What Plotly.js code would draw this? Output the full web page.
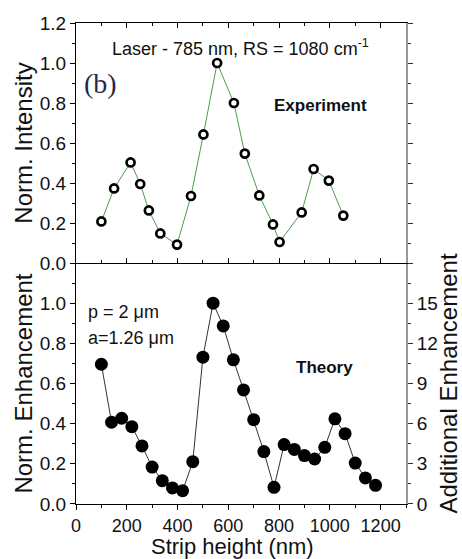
<!DOCTYPE html>
<html><head><meta charset="utf-8">
<script src="https://cdn.plot.ly/plotly-3.0.1.min.js"></script>
<style>html,body{margin:0;padding:0;background:#fff}</style>
</head><body><div id="chart" style="width:462px;height:559px"></div>
<script>
// Experiment (top panel)
const expHeight = [100, 150, 215, 253, 287, 332, 398, 453, 502, 556, 622, 665, 722, 776, 802, 889, 936, 996, 1053];
const expIntensity = [0.208, 0.373, 0.503, 0.395, 0.263, 0.148, 0.092, 0.335, 0.643, 1.0, 0.80, 0.547, 0.338, 0.193, 0.105, 0.253, 0.47, 0.412, 0.237];

// Theory (bottom panel)
const thHeight = [100, 140, 180, 220, 260, 300, 340, 380, 420, 460, 500, 540, 580, 620, 660, 700, 740, 780, 820, 860, 900, 940, 980, 1020, 1060, 1100, 1140, 1180];
const thEnhancement = [0.696, 0.407, 0.427, 0.385, 0.289, 0.184, 0.116, 0.080, 0.066, 0.211, 0.731, 1.0, 0.887, 0.718, 0.568, 0.420, 0.261, 0.083, 0.296, 0.272, 0.241, 0.224, 0.282, 0.424, 0.350, 0.204, 0.130, 0.093];

const leftTicks = [0.0, 0.2, 0.4, 0.6, 0.8, 1.0, 1.2];
const rightTicks = [0, 3, 6, 9, 12, 15];
const xTicks = [0, 200, 400, 600, 800, 1000, 1200];

const FONT = 'Liberation Sans, Arial, sans-serif';

const traces = [
  {
    x: expHeight, y: expIntensity, xaxis: 'x2', yaxis: 'y2',
    mode: 'lines+markers', type: 'scatter',
    line: {color: '#4a9e46', width: 1},
    marker: {symbol: 'circle', size: 8, color: '#ffffff', line: {color: '#000', width: 2.7}},
    hoverinfo: 'skip', showlegend: false
  },
  {
    x: thHeight, y: thEnhancement, xaxis: 'x', yaxis: 'y',
    mode: 'lines+markers', type: 'scatter',
    line: {color: '#333', width: 1},
    marker: {symbol: 'circle', size: 13, color: '#000'},
    hoverinfo: 'skip', showlegend: false
  },
  // empty traces so the right-hand axes get drawn
  {x: [], y: [], xaxis: 'x', yaxis: 'y3', type: 'scatter', mode: 'markers', hoverinfo: 'skip', showlegend: false},
  {x: [], y: [], xaxis: 'x2', yaxis: 'y4', type: 'scatter', mode: 'markers', hoverinfo: 'skip', showlegend: false}
];

const tickFont = {family: FONT, size: 19, color: '#111'};
const xTickFont = {family: FONT, size: 18, color: '#111'};
const titleFont = {family: FONT, size: 24, color: '#111'};

const layout = {
  width: 462, height: 559,
  margin: {l: 76, r: 56, t: 23, b: 55},
  paper_bgcolor: '#fff', plot_bgcolor: '#fff',
  font: {family: FONT, color: '#111'},
  xaxis: {
    anchor: 'y', range: [0, 1300], tickvals: xTicks, ticktext: xTicks.map(String),
    ticks: 'outside', ticklen: 5, tickwidth: 1, tickcolor: '#000',
    minor: {dtick: 100, tick0: 0, ticks: 'outside', ticklen: 3, tickcolor: '#000'},
    showline: true, linecolor: '#000', linewidth: 1, mirror: false,
    showgrid: false, zeroline: false, tickfont: xTickFont
  },
  xaxis2: {
    anchor: 'y2', matches: 'x', range: [0, 1300], tickvals: xTicks, showticklabels: false,
    ticks: 'inside', ticklen: 5, tickcolor: '#000',
    minor: {dtick: 100, tick0: 0, ticks: 'inside', ticklen: 3, tickcolor: '#000'},
    showline: true, linecolor: '#000', linewidth: 1, mirror: 'ticks',
    showgrid: false, zeroline: false
  },
  yaxis: {
    domain: [0, 0.501], anchor: 'x', range: [0, 1.2],
    tickvals: leftTicks.slice(0, 6), ticktext: leftTicks.slice(0, 6).map(v => v.toFixed(1)),
    ticks: 'outside', ticklen: 5, tickcolor: '#000',
    minor: {dtick: 0.1, tick0: 0, ticks: 'outside', ticklen: 3, tickcolor: '#000'},
    showline: true, linecolor: '#000', linewidth: 1,
    showgrid: false, zeroline: false, tickfont: tickFont,
    title: {text: 'Norm. Enhancement', font: titleFont, standoff: 0}
  },
  yaxis2: {
    domain: [0.501, 1], anchor: 'x2', range: [0, 1.2],
    tickvals: leftTicks, ticktext: leftTicks.map(v => v.toFixed(1)),
    ticks: 'outside', ticklen: 5, tickcolor: '#000',
    minor: {dtick: 0.1, tick0: 0, ticks: 'outside', ticklen: 3, tickcolor: '#000'},
    showline: true, linecolor: '#000', linewidth: 1,
    showgrid: false, zeroline: false, tickfont: tickFont,
    title: {text: 'Norm. Intensity', font: titleFont, standoff: 0}
  },
  yaxis3: {
    overlaying: 'y', side: 'right', anchor: 'x', range: [0, 18],
    tickvals: rightTicks, ticktext: rightTicks.map(String),
    ticks: 'outside', ticklen: 5, tickcolor: '#333',
    minor: {dtick: 1.5, tick0: 0, ticks: 'outside', ticklen: 3, tickcolor: '#333'},
    showline: true, linecolor: '#999', linewidth: 2,
    showgrid: false, zeroline: false, tickfont: tickFont,
    title: {text: 'Additional Enhancement', font: titleFont, standoff: 7}
  },
  yaxis4: {
    overlaying: 'y2', side: 'right', anchor: 'x2', range: [0, 1.2],
    tickvals: leftTicks, showticklabels: false,
    ticks: 'outside', ticklen: 5, tickcolor: '#333',
    minor: {dtick: 0.1, tick0: 0, ticks: 'outside', ticklen: 3, tickcolor: '#333'},
    showline: true, linecolor: '#999', linewidth: 2,
    showgrid: false, zeroline: false
  },
  annotations: [
    {xref: 'x', yref: 'paper', x: 615, y: -0.0885, yanchor: 'middle', text: 'Strip height (nm)',
     showarrow: false, font: {family: FONT, size: 22, color: '#111'}},
    {xref: 'x2', yref: 'y2', x: 647, y: 1.077, text: 'Laser - 785 nm, RS = 1080 cm<sup>-1</sup>',
     showarrow: false, font: {family: FONT, size: 18, color: '#111'}},
    {xref: 'x2', yref: 'y2', x: 98, y: 0.90, text: '(b)',
     showarrow: false, font: {family: 'Liberation Serif, Times New Roman, serif', size: 28, color: '#1d2a4e'}},
    {xref: 'x2', yref: 'y2', x: 963, y: 0.79, text: '<b>Experiment</b>',
     showarrow: false, font: {family: FONT, size: 17, color: '#111'}},
    {xref: 'x', yref: 'y', x: 38, y: 0.954, text: 'p = 2 μm', xanchor: 'left',
     showarrow: false, font: {family: FONT, size: 18, color: '#111'}},
    {xref: 'x', yref: 'y', x: 38, y: 0.825, text: 'a=1.26 μm', xanchor: 'left',
     showarrow: false, font: {family: FONT, size: 18, color: '#111'}},
    {xref: 'x', yref: 'y', x: 978, y: 0.68, text: '<b>Theory</b>',
     showarrow: false, font: {family: FONT, size: 17, color: '#111'}}
  ]
};

Plotly.newPlot('chart', traces, layout, {staticPlot: true, displayModeBar: false});
</script>
</body></html>
